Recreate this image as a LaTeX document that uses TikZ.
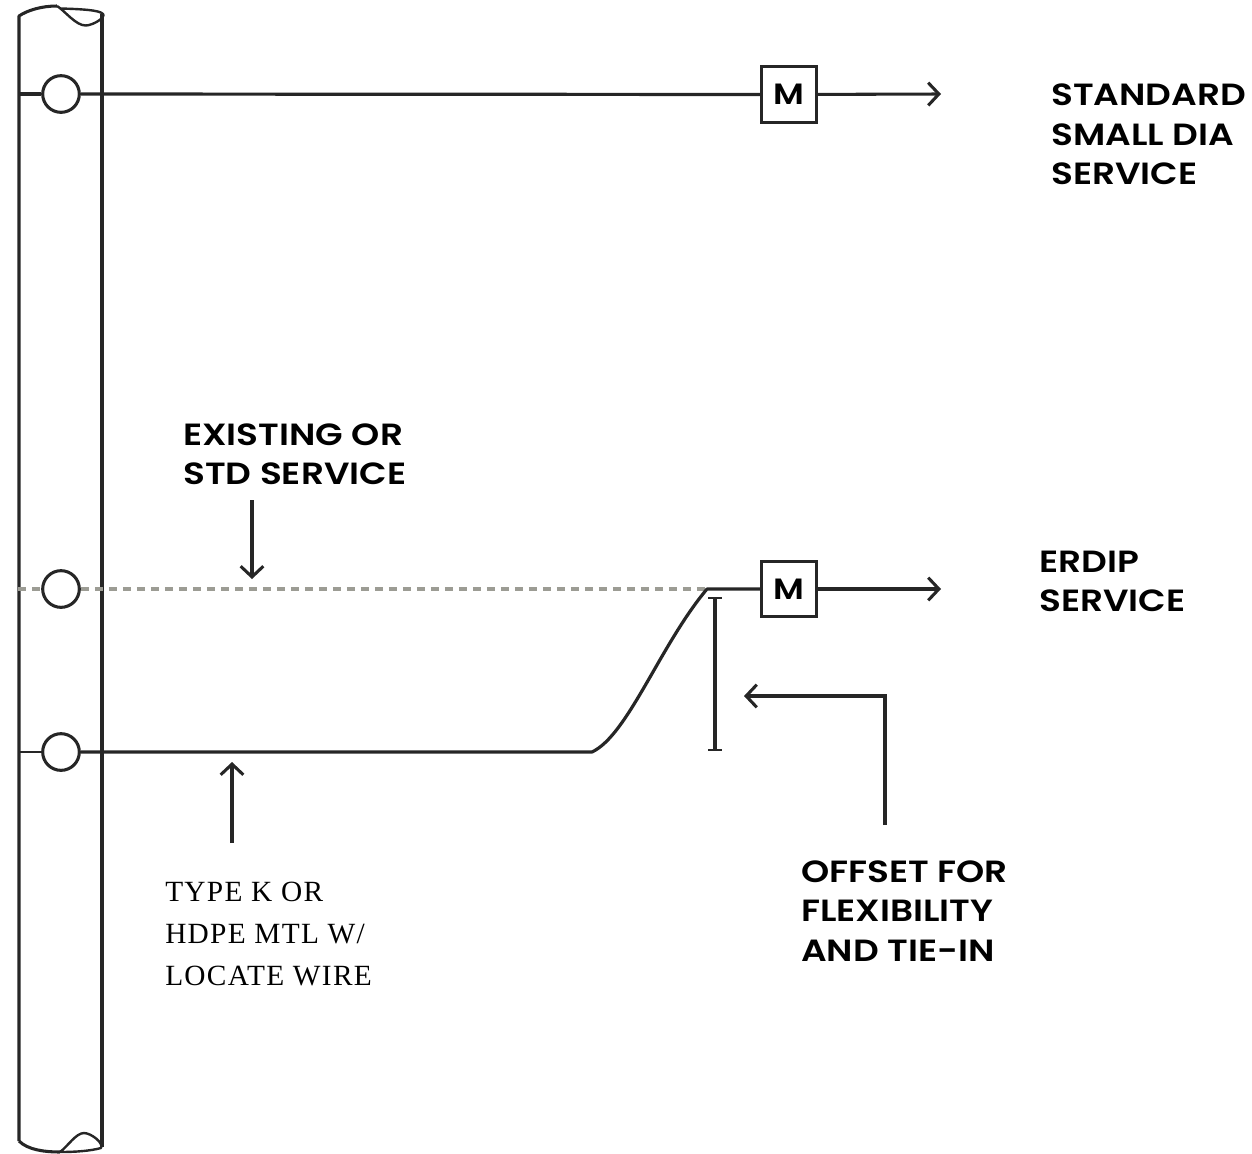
\documentclass[tikz,border=0pt]{standalone}
\usepackage{fontspec}
\usetikzlibrary{arrows.meta}
\newfontfamily\labfont[FakeStretch=1.17]{Poppins SemiBold}
\setmainfont[LetterSpace=4.5]{Liberation Serif}
\definecolor{ink}{HTML}{262626}
\definecolor{dashgray}{HTML}{9C9C94}
\tikzset{
  px/.style={x=0.75pt,y=-0.75pt},
  pipe/.style={draw=ink,line width=2.4pt,line join=round},
  wall/.style={draw=ink,line width=2.3pt,line join=round},
  flap/.style={draw=ink,line width=1.8pt,line join=round},
  thin line/.style={draw=ink,line width=2.3pt},
  arrowed/.style={draw=ink,line width=2.3pt,-{Straight Barb[length=8pt,width=17pt,line width=2.3pt]}},
  oldline/.style={draw=dashgray,line width=2.6pt,dash pattern=on 6pt off 4.5pt},
  tap/.style={circle,draw=ink,line width=2.3pt,fill=white,minimum size=27.5pt,inner sep=0pt},
  meter/.style={rectangle,draw=ink,line width=2.2pt,fill=white,minimum size=41.5pt,inner sep=0pt,font=\labfont\fontsize{22}{22}\selectfont},
  lab/.style={align=left,anchor=west,inner sep=0pt,font=\labfont\fontsize{23}{29.6}\selectfont},
  seriflab/.style={align=left,anchor=west,inner sep=0pt,font=\fontsize{22}{31.5}\selectfont},
}
\begin{document}
\begin{tikzpicture}[px]
\useasboundingbox (0,0) rectangle (1252,1153);
% main pipe
\draw[wall] (19,1141) -- (19,16) .. controls (28,10) and (42,6) .. (57,6);
\draw[wall] (19,1141) .. controls (28,1150) and (45,1152) .. (60,1152);
\draw[wall] (102,14) -- (102,1147);
\draw[flap] (57,6) .. controls (64,10) and (76,26) .. (86,25.5) .. controls (94,25) and (106,17) .. (103,14) .. controls (100,10) and (80,9) .. (60,8.5);
\draw[flap] (60,1152) .. controls (68,1146) and (76,1133) .. (84,1133) .. controls (91,1133) and (104,1143) .. (101,1148) .. controls (90,1151) and (75,1152) .. (60,1152);
% anchors
\coordinate (s1) at (18,94);
\coordinate (s2) at (18,589);
\coordinate (s3) at (18,752);
\coordinate (bendlow) at (592,752);
\coordinate (bendhigh) at (707,589);
\coordinate (end1) at (941,94);
\coordinate (end2) at (941,589);
\coordinate (downstart) at (252,500);
\coordinate (downend) at (252,579);
\coordinate (upstart) at (232,843);
\coordinate (upend) at (232,762);
\coordinate (offstart) at (885,825);
\coordinate (offcorner) at (885,696);
\coordinate (offend) at (744,696);
\coordinate (bartop) at (715,597);
\coordinate (barbot) at (715,751);
% nodes
\node[tap] (c1) at (61,94) {};
\node[tap] (c2) at (61,589) {};
\node[tap] (c3) at (61,752) {};
\node[meter] (m1) at (789,94.5) {M};
\node[meter] (m2) at (789,589) {M};
% connectors
\draw[pipe] (s1) -- (c1);
\draw[pipe] (c1) -- (m1);
\draw[arrowed] (m1) -- (end1);
\draw[oldline] (s2) -- (c2);
\draw[oldline] (c2) -- (bendhigh);
\draw[thin line,line width=1.7pt] (s3) -- (c3);
\draw[pipe] (c3) -- (bendlow) .. controls (628,735) and (660,645) .. (bendhigh) -- (m2);
\draw[arrowed] (m2) -- (end2);
\draw[arrowed] (downstart) -- (downend);
\draw[arrowed] (upstart) -- (upend);
\draw[arrowed,line join=miter] (offstart) -- (offcorner) -- (offend);
\draw[thin line,{Bar[width=10pt,line width=1.7pt]}-{Bar[width=10pt,line width=1.7pt]}] (bartop) -- (barbot);
% labels
\node[lab] (t1) at (1051,134.5) {STANDARD\\SMALL DIA\\SERVICE};
\node[lab] (t2) at (1039,581.5) {ERDIP\\SERVICE};
\node[lab] (t3) at (183,454.5) {EXISTING OR\\STD SERVICE};
\node[lab] (t4) at (801,911) {OFFSET FOR\\FLEXIBILITY\\AND TIE-IN};
\node[seriflab] (t5) at (165,934) {TYPE K OR\\HDPE MTL W/\\LOCATE WIRE};
\end{tikzpicture}
\end{document}
